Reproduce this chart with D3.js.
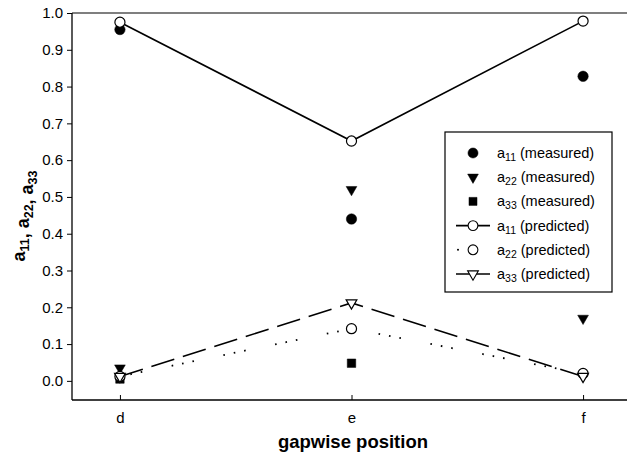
<!DOCTYPE html>
<html><head><meta charset="utf-8">
<script src="https://cdn.jsdelivr.net/npm/d3@7"></script>
<style>body{margin:0;background:#fff}svg{display:block}text{font-family:"Liberation Sans",Arial,sans-serif}</style>
</head><body><svg id="c" width="627" height="463"></svg>
<script>
const categories = ["d","e","f"];
const yTicks = [0,0.1,0.2,0.3,0.4,0.5,0.6,0.7,0.8,0.9,1.0];
const a11Measured = [0.955, 0.44, 0.828];
const a22Measured = [0.035, 0.52, 0.17];
const a33Measured = [0.005, 0.048, null];
const a11Predicted = [0.975, 0.652, 0.978];
const a22Predicted = [0.012, 0.142, 0.02];
const a33Predicted = [0.012, 0.212, 0.012];

const svg = d3.select("#c");
const L=72, R=631, T=13, B=400;
const x = d3.scaleLinear().domain([-0.207, 2.207]).range([L, R]);
const y = d3.scaleLinear().domain([-0.052, 1.0]).range([B, T]);

svg.append("line").attr("x1",L).attr("x2",627).attr("y1",T).attr("y2",T).attr("stroke","#000").attr("stroke-width",1.2);
const yAxis = d3.axisLeft(y).tickValues(yTicks).tickFormat(d3.format(".1f")).tickSize(5).tickPadding(4);
const gy = svg.append("g").attr("transform",`translate(${L},0)`).call(yAxis);
gy.select(".domain").attr("d",`M0,${T}V${B}`).attr("stroke-width",1.3);
gy.selectAll("text").attr("font-size",15).attr("fill","#000");

const xAxis = d3.axisBottom(x).tickValues([0,1,2]).tickFormat(i=>categories[i]).tickSizeInner(-5).tickSizeOuter(0).tickPadding(12);
const gx = svg.append("g").attr("transform",`translate(0,${B})`).call(xAxis);
gx.select(".domain").attr("d",`M${L},0H627`).attr("stroke-width",1.5);
gx.selectAll("text").attr("font-size",15).attr("fill","#000");

svg.append("text").attr("x",353).attr("y",448).attr("text-anchor","middle").attr("font-size",18.5).attr("font-weight","bold").text("gapwise position");
const yt = svg.append("text").attr("transform","translate(25,216) rotate(-90)").attr("text-anchor","middle").attr("font-size",18).attr("font-weight","bold");
[["a","11"],[", a","22"],[", a","33"]].forEach(([a,s])=>{
  yt.append("tspan").text(a);
  yt.append("tspan").attr("dy",4).attr("font-size",12.5).text(s);
  yt.append("tspan").attr("dy",-4).text("");
});

const line = d3.line().x((d,i)=>x(i)).y(d=>y(d));
svg.append("path").datum(a22Predicted).attr("d",line).attr("fill","none").attr("stroke","#000").attr("stroke-width",1.8).attr("stroke-dasharray","1.6,9,1.6,9,1.6,30");
svg.append("path").datum(a33Predicted).attr("d",line).attr("fill","none").attr("stroke","#000").attr("stroke-width",1.6).attr("stroke-dasharray","24,9");
svg.append("path").datum(a11Predicted).attr("d",line).attr("fill","none").attr("stroke","#000").attr("stroke-width",1.6);

const sym = {
  circle: d3.symbol().type(d3.symbolCircle),
  tri: d3.symbol().type(d3.symbolTriangle),
  sq: d3.symbol().type(d3.symbolSquare)
};
function markers(data, type, size, filled, rot){
  data.forEach((v,i)=>{
    if(v==null) return;
    svg.append("path").attr("d",sym[type].size(size)()).attr("transform",`translate(${x(i)},${y(v)}) rotate(${rot||0})`)
      .attr("fill",filled?"#000":"#fff").attr("stroke","#000").attr("stroke-width",filled?0.5:1.2);
  });
}
markers(a33Measured,"sq",72,true);
markers(a22Measured,"tri",50,true,180);
markers(a11Measured,"circle",85,true);
markers(a22Predicted,"circle",80,false);
markers(a33Predicted,"tri",50,false,180);
markers(a11Predicted,"circle",80,false);

const lg = svg.append("g");
lg.append("rect").attr("x",445).attr("y",132).attr("width",167).attr("height",160).attr("fill","#fff").attr("stroke","#000").attr("stroke-width",1.2);
const legendItems = [
  {s:"11",t:" (measured)",type:"circle",filled:true,size:80},
  {s:"22",t:" (measured)",type:"tri",filled:true,size:50,rot:180},
  {s:"33",t:" (measured)",type:"sq",filled:true,size:65},
  {s:"11",t:" (predicted)",type:"circle",filled:false,size:75,line:"solid"},
  {s:"22",t:" (predicted)",type:"circle",filled:false,size:75,line:"dot"},
  {s:"33",t:" (predicted)",type:"tri",filled:false,size:50,rot:180,line:"dash"}
];
legendItems.forEach((d,i)=>{
  const cy = 153 + i*24.2, cx = 473;
  if(d.line==="solid") lg.append("line").attr("x1",456).attr("x2",490).attr("y1",cy).attr("y2",cy).attr("stroke","#000").attr("stroke-width",1.6);
  if(d.line==="dash") lg.append("line").attr("x1",456).attr("x2",490).attr("y1",cy).attr("y2",cy).attr("stroke","#000").attr("stroke-width",1.4);
  if(d.line==="dot") lg.append("circle").attr("cx",458).attr("cy",cy).attr("r",1).attr("fill","#000");
  lg.append("path").attr("d",sym[d.type].size(d.size)()).attr("transform",`translate(${cx},${cy}) rotate(${d.rot||0})`)
    .attr("fill",d.filled?"#000":"#fff").attr("stroke","#000").attr("stroke-width",d.filled?0.5:1.1);
  const t = lg.append("text").attr("x",497).attr("y",cy+5).attr("font-size",14.5);
  t.append("tspan").text("a");
  t.append("tspan").attr("dy",3).attr("font-size",10.5).text(d.s);
  t.append("tspan").attr("dy",-3).text(d.t);
});
</script></body></html>
